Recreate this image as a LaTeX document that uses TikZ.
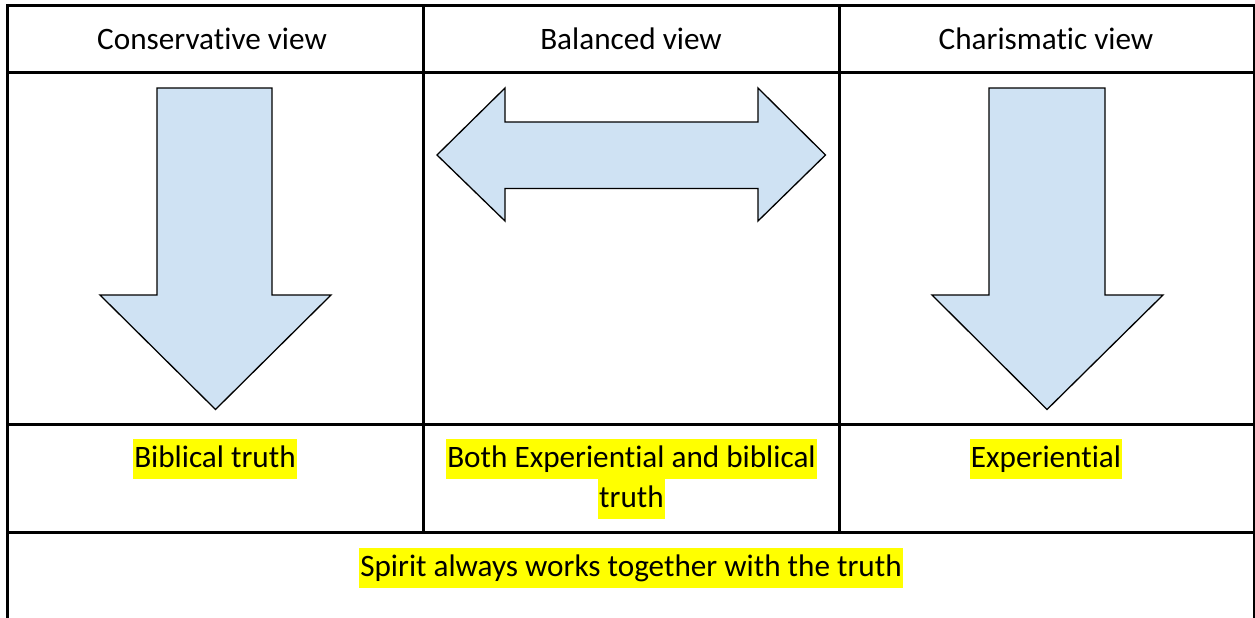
\documentclass[tikz,border=0pt]{standalone}
\usepackage{fontspec}
\setmainfont[Ligatures=NoCommon]{Carlito}
\definecolor{arrowblue}{HTML}{CFE2F3}
\definecolor{hl}{HTML}{FFFF00}
\tikzset{
  grid/.style={line width=3pt, line cap=rect},
  bigarrow/.style={draw=black, line width=1.3pt, fill=arrowblue, line join=miter},
  celltext/.style={font=\fontsize{31.2}{40}\selectfont, inner sep=0pt, inner xsep=1pt, text height=28pt, text depth=12pt, anchor=base},
  marked/.style={celltext, fill=hl}
}
\begin{document}
\begin{tikzpicture}[x=1pt,y=-1pt]
\useasboundingbox (0,0) rectangle (1255,618);
% table grid
\coordinate (tl) at (7.5,6);
\coordinate (tr) at (1254.5,6);
\coordinate (bl) at (7.5,620);
\coordinate (br) at (1254.5,620);
\draw[grid] (bl) -- (tl) -- (tr) -- (br);
\draw[grid] (7.5,72.5) -- (1254.5,72.5);
\draw[grid] (7.5,424.5) -- (1254.5,424.5);
\draw[grid] (7.5,532.3) -- (1254.5,532.3);
\draw[grid] (423.3,6) -- (423.3,532.3);
\draw[grid] (839.5,6) -- (839.5,532.3);
% headers
\node[celltext] (h1) at (212,49) {Conservative view};
\node[celltext] (h2) at (631,49) {Balanced view};
\node[celltext] (h3) at (1046,49) {Charismatic view};
% arrows
\draw[bigarrow] (157,88) -- (272,88) -- (272,295) -- (331,295) -- (215.5,409.5) -- (100,295) -- (157,295) -- cycle;
\draw[bigarrow] (989,88) -- (1105,88) -- (1105,295) -- (1163,295) -- (1047,409.5) -- (932,295) -- (989,295) -- cycle;
\draw[bigarrow] (437,155) -- (505,88) -- (505,122) -- (758,122) -- (758,88) -- (825.5,155) -- (758,221) -- (758,188.5) -- (505,188.5) -- (505,221) -- cycle;
% row texts
\node[marked] (t1) at (215,467) {Biblical truth};
\node[marked] (t2a) at (631.5,467) {Both Experiential and biblical};
\node[marked] (t2b) at (631.5,507) {truth};
\node[marked] (t3) at (1046,467) {Experiential};
\node[marked] (t4) at (631,576) {Spirit always works together with the truth};
\end{tikzpicture}
\end{document}
